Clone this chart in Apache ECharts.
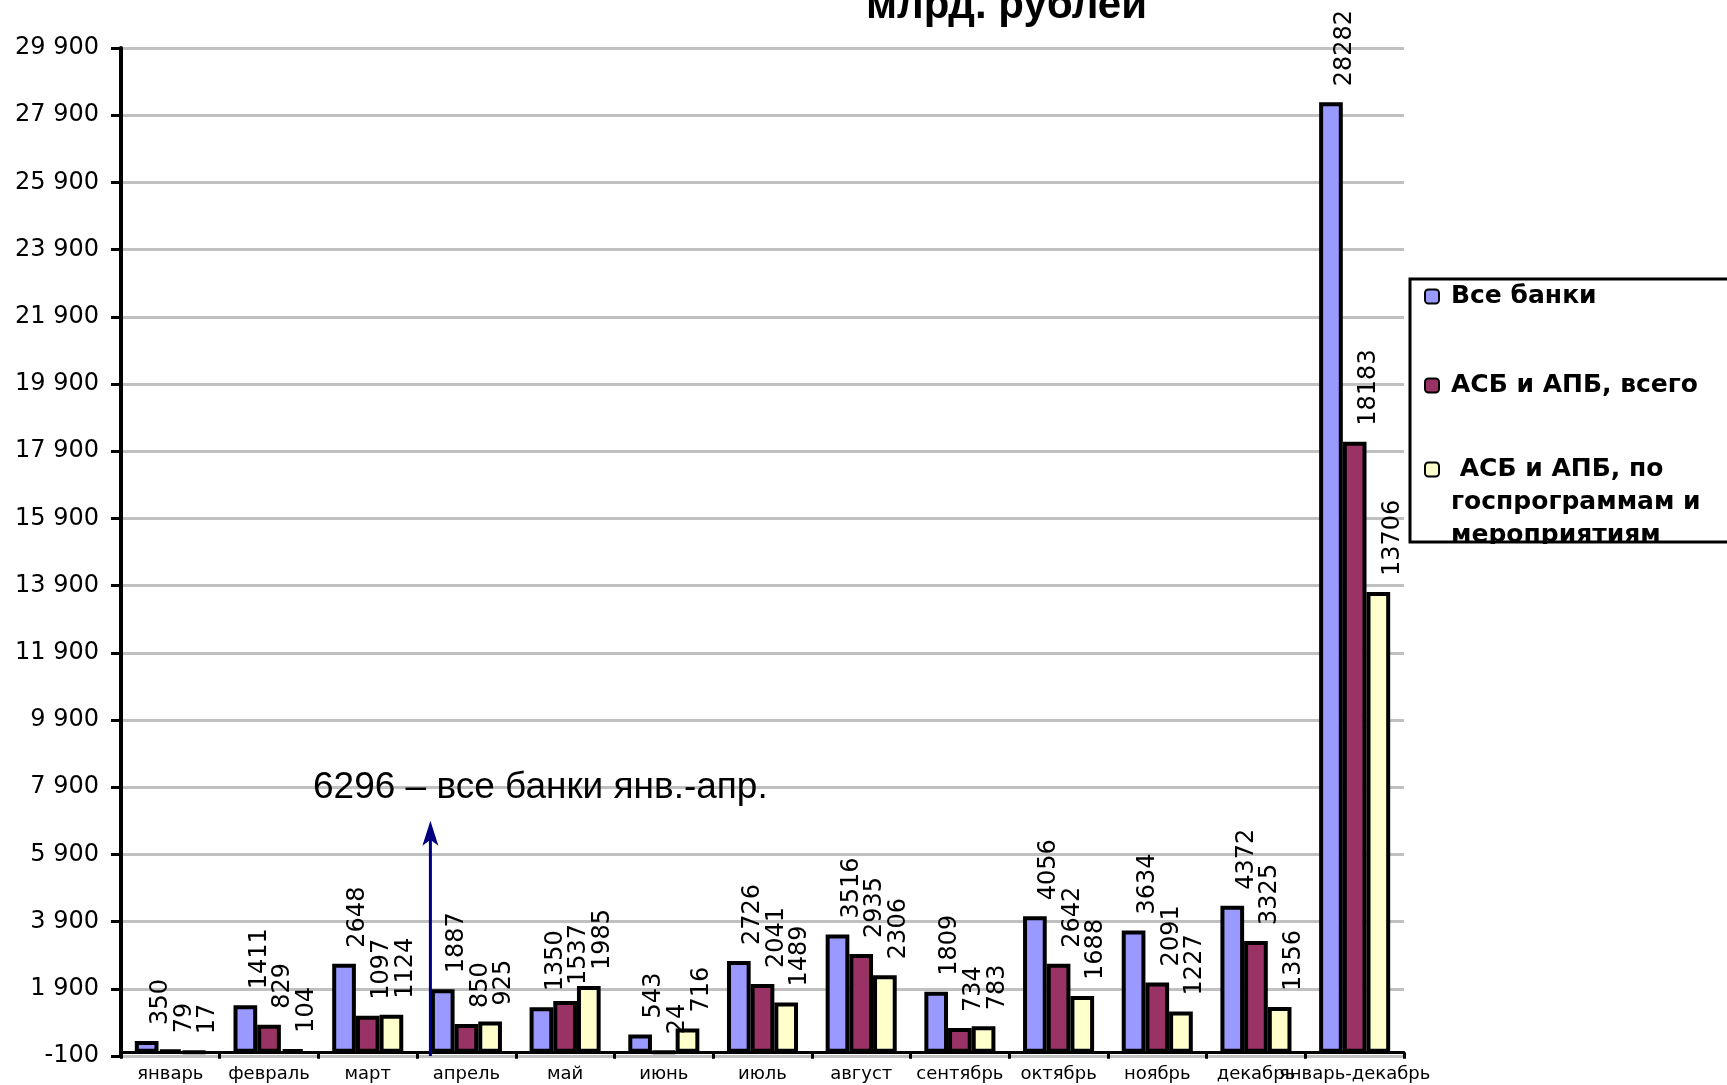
<!DOCTYPE html>
<html>
<head>
<meta charset="utf-8">
<script src="https://cdn.jsdelivr.net/npm/echarts@6/dist/echarts.min.js"></script>
<style>
html,body{margin:0;padding:0;background:#fff;}
#chart{width:1727px;height:1085px;}
</style>
</head>
<body>
<div id="chart"></div>
<script>
const categories = ['январь','февраль','март','апрель','май','июнь','июль','август','сентябрь','октябрь','ноябрь','декабрь','январь-декабрь'];
const seriesNames = ['Все банки', 'АСБ и АПБ, всего', ' АСБ и АПБ, по госпрограммам и мероприятиям'];
const allBanks = [350, 1411, 2648, 1887, 1350, 543, 2726, 3516, 1809, 4056, 3634, 4372, 28282];
const asbApbTotal = [79, 829, 1097, 850, 1537, 24, 2041, 2935, 734, 2642, 2091, 3325, 18183];
const asbApbGov = [17, 104, 1124, 925, 1985, 716, 1489, 2306, 783, 1688, 1227, 1356, 13706];
const yMin = -100, yMax = 29900, yStep = 2000;
const annotationText = '6296 – все банки янв.-апр.';
const annotationCategory = 'апрель';
const arrowTopValue = 6900;
const titleText = 'млрд. рублей';
const legendLabels = ['Все банки', 'АСБ и АПБ, всего', '\n\n АСБ и АПБ, по\nгоспрограммам и\nмероприятиям'];

const colors = ['#9999FF', '#993366', '#FFFFCC'];
const dataLabel = {
  show: true, position: 'top', rotate: 90, align: 'left', verticalAlign: 'middle',
  distance: 16, offset: [0, 14],
  fontFamily: 'DejaVu Sans', fontSize: 24, color: '#000'
};
function fmtY(v) {
  if (Math.abs(v) < 1000) return String(v);
  const th = Math.floor(v / 1000), r = v % 1000;
  return th + ' ' + String(r).padStart(3, '0');
}
const datasets = [allBanks, asbApbTotal, asbApbGov];
const chart = echarts.init(document.getElementById('chart'), null, {renderer: 'canvas'});
const legendTop = [280, 369, 387];
const legendText = {fontFamily: 'DejaVu Sans', fontWeight: 'bold', fontSize: 25, color: '#000', lineHeight: 33, padding: [0, 0, 0, 7]};
const option = {
  animation: false,
  backgroundColor: '#fff',
  grid: {left: 121, right: 323, top: 48, bottom: 29, containLabel: false, outerBoundsMode: 'none'},
  xAxis: {
    type: 'category', data: categories, boundaryGap: true,
    axisLine: {lineStyle: {color: '#000', width: 3}},
    axisTick: {show: true, length: 6, lineStyle: {color: '#000', width: 3}},
    axisLabel: {interval: 0, color: '#000', fontFamily: 'DejaVu Sans', fontSize: 18, margin: 9},
    splitLine: {show: false}
  },
  yAxis: {
    type: 'value', min: yMin, max: yMax, interval: yStep,
    axisLine: {show: true, lineStyle: {color: '#000', width: 4}},
    axisTick: {show: true, length: 10, lineStyle: {color: '#000', width: 3}},
    axisLabel: {color: '#000', fontFamily: 'DejaVu Sans', fontSize: 24, margin: 22, formatter: fmtY},
    splitLine: {show: true, lineStyle: {color: '#c0c0c0', width: 3}}
  },
  legend: seriesNames.map((n, i) => ({
    data: [n], orient: 'vertical', left: 1424, top: legendTop[i], padding: 0,
    itemWidth: 14, itemHeight: 14, selectedMode: false,
    itemStyle: {borderWidth: 2, borderColor: '#000'},
    formatter: () => legendLabels[i],
    textStyle: legendText
  })),
  series: datasets.map((d, i) => ({
    name: seriesNames[i], type: 'bar', data: d,
    barGap: '0%', barCategoryGap: '28%',
    itemStyle: {color: colors[i], borderColor: '#000', borderWidth: 4},
    label: dataLabel
  }))
};
chart.setOption(option);

const p0 = chart.convertToPixel({xAxisIndex: 0, yAxisIndex: 0}, [annotationCategory, yMin]);
const p1 = chart.convertToPixel({xAxisIndex: 0, yAxisIndex: 0}, [categories[4], arrowTopValue]);
const band = p1[0] - p0[0];
const ax = p0[0] - 0.365 * band;
const tipY = p1[1];
chart.setOption({
  graphic: [
    {type: 'text', left: 866, top: -15, z: 100,
     style: {text: titleText, fontFamily: 'Liberation Sans', fontWeight: 'bold', fontSize: 42, fill: '#000'}},
    {type: 'text', x: 313, y: 788, z: 100,
     style: {text: annotationText, fontFamily: 'Liberation Sans', fontSize: 37, fill: '#000', verticalAlign: 'middle', align: 'left'}},
    {type: 'line', z: 100, shape: {x1: ax, y1: p0[1], x2: ax, y2: tipY + 14},
     style: {stroke: '#000080', lineWidth: 3}},
    {type: 'polygon', z: 100, shape: {points: [[ax, tipY], [ax - 8, tipY + 25], [ax, tipY + 19], [ax + 8, tipY + 25]]},
     style: {fill: '#000080'}},
    {type: 'rect', z: 99, shape: {x: 1412, y: 544, width: 330, height: 40}, style: {fill: '#fff'}},
    {type: 'rect', z: 100, shape: {x: 1410, y: 279, width: 340, height: 263},
     style: {fill: 'none', stroke: '#000', lineWidth: 3}}
  ]
});
</script>
</body>
</html>
